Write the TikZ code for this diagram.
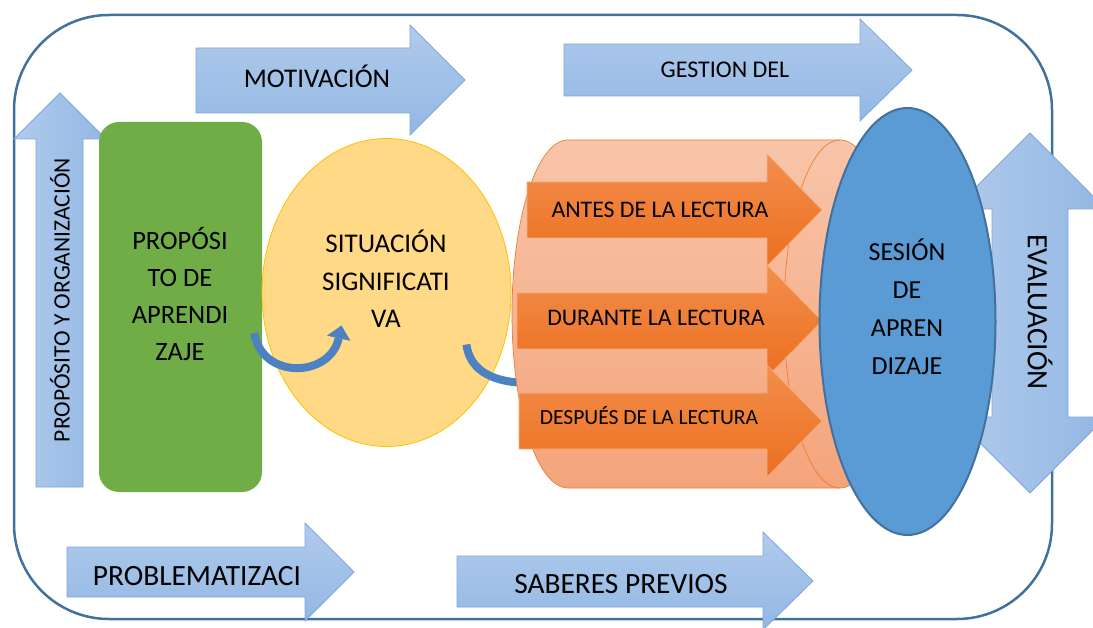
\documentclass[tikz,border=0pt]{standalone}
\usepackage{fontspec}
\setmainfont{Carlito}
\usetikzlibrary{shapes.geometric}
\usetikzlibrary{arrows.meta}
\usetikzlibrary{calc}
\definecolor{frameblue}{HTML}{41719C}
\definecolor{lightblueA}{HTML}{B0CBEC}
\definecolor{lightblueB}{HTML}{93B7E3}
\definecolor{lightblueline}{HTML}{7EA8DA}
\definecolor{leafgreen}{HTML}{70AD47}
\definecolor{sandyellow}{HTML}{FFD985}
\definecolor{goldline}{HTML}{FFC000}
\definecolor{salmonA}{HTML}{F8C5A9}
\definecolor{salmonB}{HTML}{F4A47B}
\definecolor{orangeline}{HTML}{ED7D31}
\definecolor{orangeA}{HTML}{F28E4C}
\definecolor{orangeB}{HTML}{EC6F1F}
\definecolor{skyblue}{HTML}{5B9BD5}
\definecolor{curlblue}{HTML}{4C82C1}
\tikzset{
  blockh/.style={draw=lightblueline,line width=0.8pt,top color=lightblueA,bottom color=lightblueB},
  blockv/.style={draw=lightblueline,line width=0.8pt,left color=lightblueA,right color=lightblueB},
  blockorange/.style={draw=orangeA!70!white,line width=0.6pt,top color=orangeA,bottom color=orangeB},
  txt/.style={inner sep=0pt,align=center,text=black},
  curl/.style={curlblue,line width=8pt}
}
\newcommand{\fsz}[2]{\fontsize{#1}{#2}\selectfont}
\begin{document}
\begin{tikzpicture}[x=1pt,y=-1pt]
\useasboundingbox (0,0) rectangle (1093,628);
% outer frame
\draw[frameblue,line width=2.5pt,rounded corners=95pt] (14,15) rectangle (1052,619);
% left upward arrow
\path[blockv] (36,487) -- (36,139) -- (14,139) -- (60,93) -- (106,139) -- (83,139) -- (83,487) -- cycle;
\node[txt,rotate=90,font=\fsz{23.5}{23.5}] (orga) at (60,300) {PROPÓSITO Y ORGANIZACIÓN};
% green box and yellow ellipse
\node[fill=leafgreen,rounded corners=20pt,minimum width=163pt,minimum height=370pt,inner sep=0pt] (prop) at (180.5,307) {};
\node[txt,font=\fsz{26.5}{37}] (proptext) at (180,294) {PROPÓSI\\TO DE\\APRENDI\\ZAJE};
\node[ellipse,draw=goldline,line width=0.8pt,fill=sandyellow,minimum width=249pt,minimum height=308pt,inner sep=0pt] (sit) at (386.5,292.5) {};
\node[txt,font=\fsz{27}{37.5}] (sittext) at (386,279) {SITUACIÓN\\SIGNIFICATI\\VA};
% curved connectors
\coordinate (curlA) at ($(prop.east)+(-8,26)$);
\coordinate (curlB) at ($(sit.center)+(-45,33)$);
\draw[curl,-{Triangle[width=24pt,length=13pt,line width=0pt]}] (curlA) .. controls (262,380) and (330,378) .. (curlB);
\coordinate (curlC) at ($(sit.east)+(-45,52)$);
\coordinate (curlD) at (530,383);
\draw[curl] (curlC) .. controls (470,372) and (495,383) .. (curlD);
% cylinder behind the reading stages
\path[draw=orangeline,line width=0.7pt,top color=salmonA,bottom color=salmonB]
  (568,140) -- (840,140) .. controls (870.9,140) and (896,217.9) .. (896,314)
  .. controls (896,410.1) and (870.9,488) .. (840,488) -- (568,488)
  .. controls (537.1,488) and (512,410.1) .. (512,314)
  .. controls (512,217.9) and (537.1,140) .. (568,140) -- cycle;
\draw[orangeline,line width=0.7pt] (840,140) .. controls (809.1,140) and (784,217.9) .. (784,314)
  .. controls (784,410.1) and (809.1,488) .. (840,488);
% reading stages
\foreach \yc/\xs in {210/527,321/517,421/519}
  \path[blockorange] (\xs,\yc-28) -- (767,\yc-28) -- (767,\yc-56) -- (822,\yc) -- (767,\yc+56)
    -- (767,\yc+28) -- (\xs,\yc+28) -- cycle;
\node[txt,font=\fsz{23.8}{23.8}] (antes) at (660,210) {ANTES DE LA LECTURA};
\node[txt,font=\fsz{23.8}{23.8}] (durante) at (656,318) {DURANTE LA LECTURA};
\node[txt,font=\fsz{21.6}{21.6}] (despues) at (649,416) {DESPUÉS DE LA LECTURA};
% right double arrow
\path[blockv] (992,209) -- (954,209) -- (1030,133) -- (1106,209) -- (1068,209) -- (1068,417)
  -- (1106,417) -- (1030,493) -- (954,417) -- (992,417) -- cycle;
\node[txt,rotate=-90,font=\fsz{29.5}{29.5}] (evaltext) at (1040,312) {EVALUACIÓN};
% session ellipse
\node[ellipse,draw=frameblue,line width=2pt,fill=skyblue,minimum width=176pt,minimum height=427pt,inner sep=0pt] (ses) at (907.5,321.5) {};
\node[txt,font=\fsz{26}{38}] (sestext) at (907,307) {SESIÓN\\DE\\APREN\\DIZAJE};
% top arrows
\path[blockh] (196,48) -- (410,48) -- (410,25) -- (465,80) -- (410,135) -- (410,113) -- (196,113) -- cycle;
\node[txt,font=\fsz{27}{27}] (moti) at (317,76) {MOTIVACIÓN};
\path[blockh] (564,44) -- (860,44) -- (860,19) -- (912,70) -- (860,121) -- (860,96) -- (564,96) -- cycle;
\node[txt,font=\fsz{24}{24}] (gest) at (725,70) {GESTION DEL};
% bottom arrows
\path[blockh] (67,547) -- (305,547) -- (305,523) -- (354,572) -- (305,621) -- (305,597) -- (67,597) -- cycle;
\node[txt,font=\fsz{29.4}{29.4}] (probl) at (197,576) {PROBLEMATIZACI};
\path[blockh] (457,556) -- (763,556) -- (763,532) -- (813,581) -- (763,630) -- (763,607) -- (457,607) -- cycle;
\node[txt,font=\fsz{29.4}{29.4}] (saber) at (621,584) {SABERES PREVIOS};
\end{tikzpicture}
\end{document}
